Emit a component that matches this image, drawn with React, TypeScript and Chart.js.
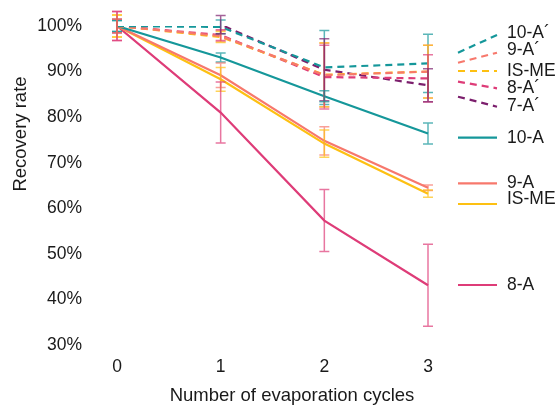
import React, { useEffect, useRef } from 'react';
import { Chart, registerables } from 'chart.js';

Chart.register(...registerables);

// ---- data ----
const cycles = ['0', '1', '2', '3'];
const yMin = 30;
const yMax = 100;
const yStep = 10;

const tenAPrime = [100, 99.8, 90.9, 91.8];
const tenAPrimeErr = [1.2, 1.5, 8.1, 6.4];
const nineAPrime = [100, 97.8, 89.2, 90.0];
const nineAPrimeErr = [1.5, 1.2, 7.0, 5.8];
const isMePrime = [100, 97.6, 89.3, 90.0];
const isMePrimeErr = [2.4, 1.2, 7.0, 5.8];
const eightAPrime = [100, 98.0, 88.8, 88.5];
const eightAPrimeErr = [3.2, 1.2, 7.0, 5.2];
const sevenAPrime = [100, 100.3, 90.4, 87.0];
const sevenAPrimeErr = [1.5, 2.0, 6.8, 3.6];
const tenA = [100, 93.1, 84.6, 76.4];
const tenAErr = [1.2, 1.0, 1.2, 2.3];
const nineA = [100, 89.2, 74.8, 64.5];
const nineAErr = [1.5, 2.7, 3.1, 0.6];
const isMe = [100, 88.3, 74.2, 63.2];
const isMeErr = [2.4, 2.6, 3.0, 0.8];
const eightA = [100, 81.0, 57.3, 43.1];
const eightAErr = [3.2, 6.7, 6.8, 9.0];

const labels = ['10-A´', '9-A´', 'IS-ME', '8-A´', '7-A´', '10-A', '9-A', 'IS-ME', '8-A'];

const TEAL = '#15979a';
const SALMON = '#f7786c';
const YELLOW = '#fdc012';
const PINK = '#de3c78';
const PURPLE = '#7c1f6d';

const FONT = "'Liberation Sans', Arial, Helvetica, sans-serif";

const series = [
  { label: labels[0], data: tenAPrime, err: tenAPrimeErr, color: TEAL, dashed: true },
  { label: labels[1], data: nineAPrime, err: nineAPrimeErr, color: SALMON, dashed: true },
  { label: labels[2], data: isMePrime, err: isMePrimeErr, color: YELLOW, dashed: true },
  { label: labels[3], data: eightAPrime, err: eightAPrimeErr, color: PINK, dashed: true },
  { label: labels[4], data: sevenAPrime, err: sevenAPrimeErr, color: PURPLE, dashed: true },
  { label: labels[5], data: tenA, err: tenAErr, color: TEAL, dashed: false },
  { label: labels[6], data: nineA, err: nineAErr, color: SALMON, dashed: false },
  { label: labels[7], data: isMe, err: isMeErr, color: YELLOW, dashed: false },
  { label: labels[8], data: eightA, err: eightAErr, color: PINK, dashed: false },
];

// legend layout (line start y, line end y, text y) in pixels
const legendLayout = [
  [52.7, 35, 33],
  [62.7, 52.7, 50.5],
  [71, 71, 71],
  [81.7, 88.3, 88],
  [96.7, 106.7, 106.5],
  [137.7, 137.7, 138],
  [183.3, 183.3, 183.5],
  [204, 204, 199],
  [285, 285, 285],
];

const DASH = [7, 5];

const errorBarPlugin = {
  id: 'errorBars',
  afterDatasetsDraw(chart: any) {
    const { ctx } = chart;
    const xs = chart.scales.x;
    const ys = chart.scales.y;
    ctx.save();
    ctx.globalAlpha = 0.7;
    ctx.lineWidth = 1.5;
    ctx.setLineDash([]);
    series.forEach((s) => {
      ctx.strokeStyle = s.color;
      s.data.forEach((v, j) => {
        const px = xs.getPixelForValue(j);
        const top = ys.getPixelForValue(v + s.err[j]);
        const bot = ys.getPixelForValue(v - s.err[j]);
        ctx.beginPath();
        ctx.moveTo(px, top);
        ctx.lineTo(px, bot);
        ctx.moveTo(px - 5, top);
        ctx.lineTo(px + 5, top);
        ctx.moveTo(px - 5, bot);
        ctx.lineTo(px + 5, bot);
        ctx.stroke();
      });
    });
    ctx.restore();
  },
};

const annotationPlugin = {
  id: 'annotations',
  afterDraw(chart: any) {
    const { ctx } = chart;
    ctx.save();
    // legend
    series.forEach((s, i) => {
      const [y0, y1, ty] = legendLayout[i];
      ctx.strokeStyle = s.color;
      ctx.lineWidth = 2.2;
      ctx.setLineDash(s.dashed ? DASH : []);
      ctx.beginPath();
      ctx.moveTo(458, y0);
      ctx.lineTo(497, y1);
      ctx.stroke();
      ctx.setLineDash([]);
      ctx.fillStyle = '#1a1a1a';
      ctx.font = `17.5px ${FONT}`;
      ctx.textAlign = 'left';
      ctx.textBaseline = 'middle';
      ctx.fillText(s.label, 507, ty);
    });
    // axis titles
    ctx.fillStyle = '#1a1a1a';
    ctx.font = `18.5px ${FONT}`;
    ctx.textAlign = 'center';
    ctx.textBaseline = 'middle';
    ctx.fillText('Number of evaporation cycles', 292, 396);
    ctx.translate(21, 134);
    ctx.rotate(-Math.PI / 2);
    ctx.fillText('Recovery rate', 0, 0);
    ctx.restore();
  },
};

export default function App() {
  const ref = useRef<HTMLCanvasElement | null>(null);

  useEffect(() => {
    if (!ref.current) return;
    const chart = new Chart(ref.current, {
      type: 'line',
      data: {
        labels: cycles,
        datasets: series.map((s) => ({
          label: s.label,
          data: s.data,
          borderColor: s.color,
          backgroundColor: s.color,
          borderWidth: 2.2,
          borderDash: s.dashed ? DASH : [],
          pointRadius: 0,
          tension: 0,
          fill: false,
        })),
      },
      options: {
        animation: false,
        responsive: false,
        devicePixelRatio: 1,
        layout: { padding: { left: 0, right: 132, top: 26, bottom: 0 } },
        plugins: {
          legend: { display: false },
          tooltip: { enabled: false },
          title: { display: false },
        },
        scales: {
          x: {
            type: 'category',
            offset: false,
            border: { display: false },
            grid: { display: false, drawTicks: false },
            ticks: {
              color: '#1a1a1a',
              font: { family: FONT, size: 17.5 },
              padding: 12,
              maxRotation: 0,
            },
            afterFit: (scale: any) => {
              scale.height = 61;
              scale.paddingLeft = 0;
              scale.paddingRight = 0;
            },
          },
          y: {
            min: yMin,
            max: yMax,
            border: { display: false },
            grid: { display: false, drawTicks: false },
            ticks: {
              stepSize: yStep,
              color: '#1a1a1a',
              font: { family: FONT, size: 17.5 },
              padding: 35,
              callback: (v: any) => `${v}%`,
            },
            afterFit: (scale: any) => {
              scale.width = 117;
              scale.paddingTop = 0;
              scale.paddingBottom = 0;
            },
          },
        },
      },
      plugins: [errorBarPlugin, annotationPlugin],
    });
    return () => chart.destroy();
  }, []);

  return (
    <canvas
      ref={ref}
      width={560}
      height={406}
      style={{ position: 'fixed', left: 0, top: 0, width: 560, height: 406 }}
    />
  );
}
